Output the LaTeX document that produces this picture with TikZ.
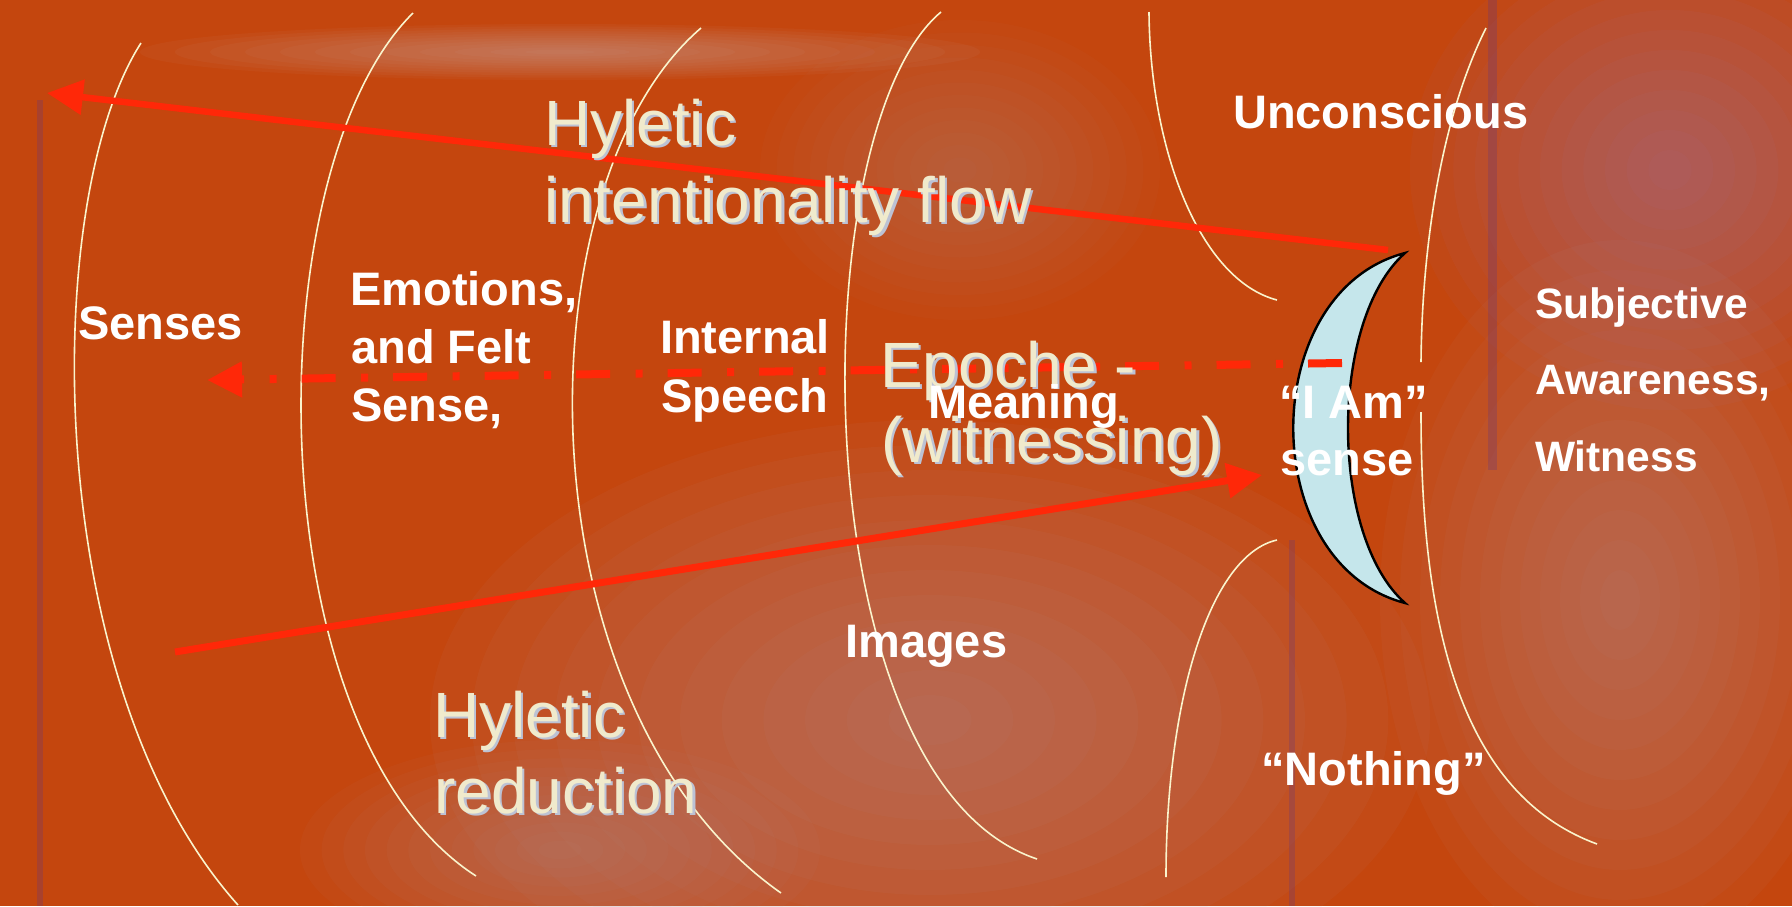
\documentclass[tikz,border=0pt]{standalone}
\usepackage{fontspec}
\newfontfamily\lsans{Liberation Sans}
\usetikzlibrary{arrows.meta}
\definecolor{bgrust}{RGB}{196,70,14}
\definecolor{arrowred}{RGB}{255,40,8}
\definecolor{creamc}{RGB}{240,234,204}
\definecolor{shadowc}{RGB}{188,194,212}
\definecolor{curvec}{RGB}{250,244,205}
\definecolor{crescentc}{RGB}{197,230,235}
\definecolor{paleA}{RGB}{182,145,150}
\definecolor{paleB}{RGB}{160,120,165}
\definecolor{paleC}{RGB}{215,180,180}
\definecolor{purpleline}{RGB}{105,55,120}
\newcommand\blob[5]{\foreach \k in {1,...,12}{\fill[#1, opacity=#5] (#2) ellipse [x radius={#3*\k/12}, y radius={#4*\k/12}];}}
\tikzset{
  whitelabel/.style={text=white, font=\lsans\bfseries\fontsize{47}{56}\selectfont, inner sep=0pt, anchor=base west},
  whitesmall/.style={whitelabel, font=\lsans\bfseries\fontsize{42.5}{50}\selectfont},
  creamlabel/.style={text=creamc, font=\lsans\fontsize{64}{76}\selectfont, inner sep=0pt, anchor=base west},
  creamshadow/.style={creamlabel, text=shadowc, xshift=2.5pt, yshift=-2.5pt},
  layercurve/.style={draw=curvec, line width=1.6pt},
  redarrow/.style={draw=arrowred, line width=6.5pt, -{Triangle[length=36pt,width=34pt]}},
  reduarrow/.style={draw=arrowred, line width=7pt, -{Triangle[length=35pt,width=34pt]}},
  epochearrow/.style={draw=arrowred, line width=8pt, dash pattern=on 34pt off 25pt on 7pt off 25.5pt, -{Triangle[length=35pt,width=34pt]}},
  crescentshape/.style={draw=black, line width=2.4pt, fill=crescentc, line join=miter},
  texture/.style={draw=purpleline, opacity=0.3}
}
\newcommand\creamline[3]{%
  \node[creamshadow] (#1sh) at (#2) {#3};
  \node[creamlabel] (#1) at (#2) {#3};}
\begin{document}
\begin{tikzpicture}[x=1pt,y=-1pt]
\useasboundingbox (0,0) rectangle (1792,906);
\clip (0,0) rectangle (1792,906);
% background
\fill[bgrust] (0,0) rectangle (1792,906);
\blob{paleA}{930,720}{500}{300}{0.06}
\blob{paleA}{1620,600}{240}{360}{0.055}
\blob{paleB}{1670,170}{260}{240}{0.06}
\blob{paleC}{560,52}{420}{28}{0.05}
\blob{paleA}{960,170}{200}{150}{0.035}
\blob{paleA}{560,850}{260}{110}{0.05}
\draw[texture, line width=9pt] (1492,0) -- (1492,470);
\draw[texture, line width=6pt] (1292,540) -- (1292,906);
\draw[texture, line width=6pt] (40,100) -- (40,906);
% layer curves
\draw[layercurve] (141,43) .. controls (40,200) and (40,684) .. (238,905);
\draw[layercurve] (413,13) .. controls (254.5,170) and (254.5,733) .. (476,876);
\draw[layercurve] (701,28) .. controls (518,185) and (518,708) .. (781,893);
\draw[layercurve] (941,12) .. controls (800,130) and (800,780) .. (1037,859);
\draw[layercurve] (1149,12) .. controls (1150,150) and (1200,280) .. (1277,300);
\draw[layercurve] (1277,540) .. controls (1210,555) and (1166,700) .. (1166,877);
\draw[layercurve] (1486,28) .. controls (1440,120) and (1422,250) .. (1421,362);
\draw[layercurve] (1421,412) .. controls (1421,600) and (1450,790) .. (1597,844);
% crescent
\coordinate (crtop) at (1405,253);
\coordinate (crbot) at (1405,603);
\draw[crescentshape] (crtop) .. controls (1256,292) and (1256,564) .. (crbot)
   .. controls (1329,536) and (1329,320) .. (crtop) -- cycle;
% arrows
\coordinate (flowstart) at (1388,250);
\coordinate (flowtip) at (47,93);
\coordinate (redstart) at (175,652);
\coordinate (redtip) at (1262,475);
\coordinate (epostart) at (1342,363);
\coordinate (epotip) at (207,380);
\draw[redarrow] (flowstart) -- (flowtip);
\draw[reduarrow] (redstart) -- (redtip);
\draw[epochearrow] (epostart) -- (epotip);
% cream labels
\creamline{hylA}{544,145}{Hyletic}
\creamline{hylB}{544,222}{intentionality flow}
\creamline{epoA}{880,387}{Epoche -}
\creamline{epoB}{881,462}{(witnessing)}
\creamline{redA}{433,737}{Hyletic}
\creamline{redB}{434,813}{reduction}
% white labels
\node[whitelabel] (senses) at (78,339) {Senses};
\node[whitelabel] (emoA) at (350,305) {Emotions,};
\node[whitelabel] (emoB) at (351,363) {and Felt};
\node[whitelabel] (emoC) at (351,421) {Sense,};
\node[whitelabel] (intA) at (660,353) {Internal};
\node[whitelabel] (intB) at (661,412) {Speech};
\node[whitelabel] (meaning) at (928,418) {Meaning};
\node[whitelabel] (images) at (845,657) {Images};
\node[whitelabel] (uncon) at (1233,128) {Unconscious};
\node[whitelabel] (iamA) at (1279,418) {“I Am”};
\node[whitelabel] (iamB) at (1280,475) {sense};
\node[whitelabel] (nothing) at (1261,785) {“Nothing”};
\node[whitesmall] (subA) at (1535,318) {Subjective};
\node[whitesmall] (subB) at (1535,394) {Awareness,};
\node[whitesmall] (subC) at (1535,471) {Witness};
\end{tikzpicture}
\end{document}
